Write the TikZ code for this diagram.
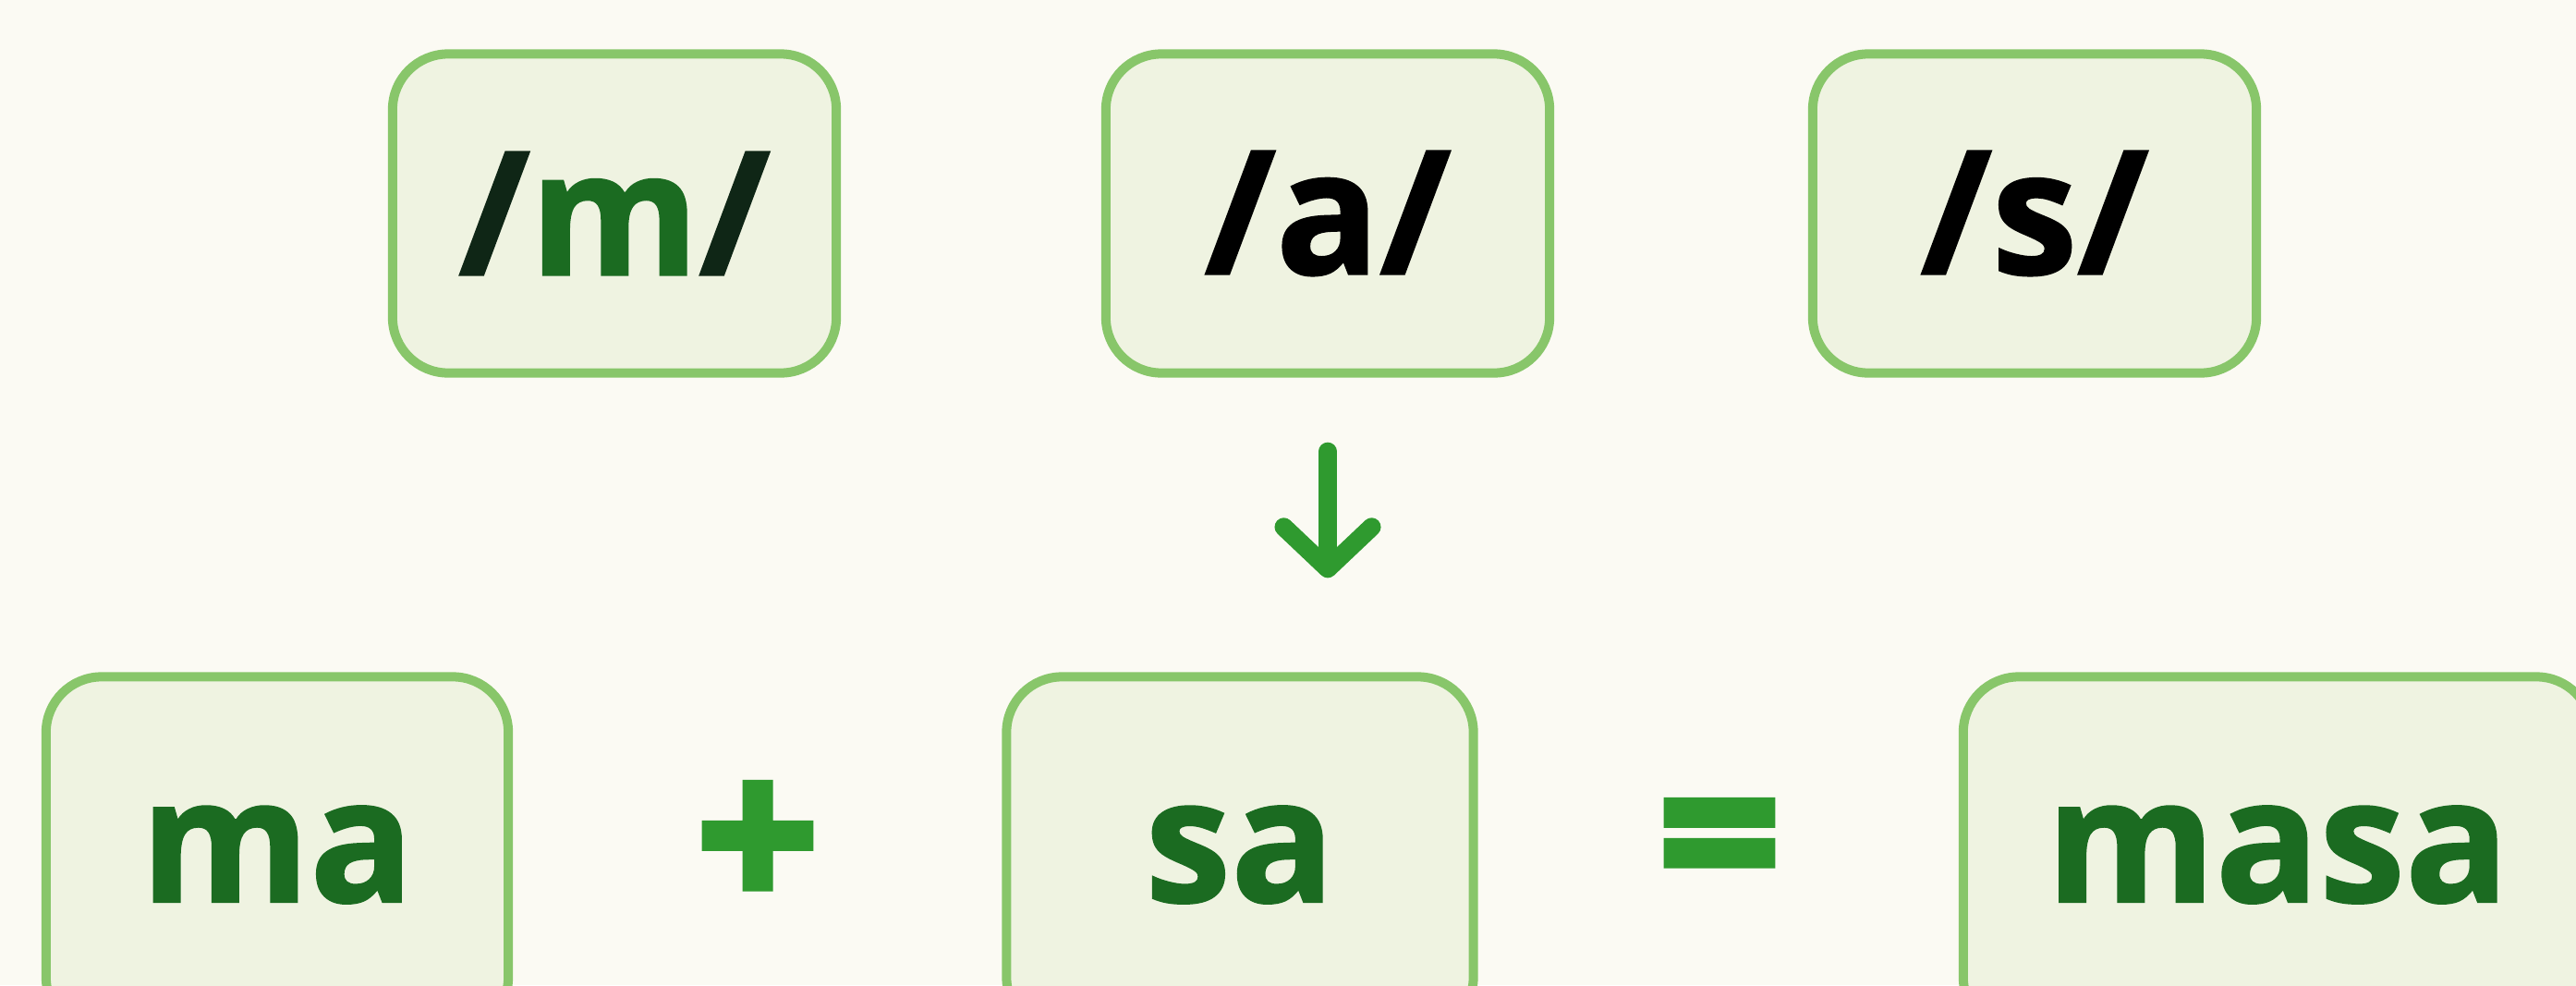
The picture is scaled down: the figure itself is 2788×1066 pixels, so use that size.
\documentclass[tikz,border=0pt]{standalone}
\usepackage{fontspec}
\setmainfont{Open Sans}[BoldFeatures={FakeBold=1.2}]
\newfontfamily\signfont{Open Sans}[BoldFeatures={FakeBold=3.5}]
\usetikzlibrary{arrows.meta, positioning}
\definecolor{paper}{HTML}{FBFAF3}
\definecolor{boxfill}{HTML}{EFF3E1}
\definecolor{boxline}{HTML}{88C66A}
\definecolor{leafgreen}{HTML}{1B6B21}
\definecolor{signgreen}{HTML}{2F9A2F}
\definecolor{inkdark}{HTML}{0F2616}
\tikzset{
  phoneme/.style={rectangle, rounded corners=0.6cm, draw=boxline, fill=boxfill, line width=0.1cm, text centered, inner sep=0, minimum width=4.8cm, minimum height=3.45cm, font=\fontsize{53}{60}\selectfont\bfseries},
  syllable/.style={phoneme, minimum height=3.85cm, text=leafgreen},
  sign/.style={text=signgreen, inner sep=0, font=\signfont\fontsize{66}{72}\selectfont\bfseries},
  flow/.style={draw=signgreen, line width=0.2cm, line cap=round, -{Straight Barb[length=0.45cm, width=0.95cm, round]}}
}

\begin{document}
\begin{tikzpicture}[x=0.01cm, y=-0.01cm]
      \fill[paper](0, 0) rectangle (2788, 1066);
      \useasboundingbox(0, 0) rectangle (2788, 1066);

      \node[phoneme](m) at (665, 231){\textcolor{inkdark}{/}\textcolor{leafgreen}{m}\textcolor{inkdark}{/}};
      \node[phoneme](a) at (1437, 231){/a/};
      \node[phoneme](s) at (2202, 231){/s/};

      \node[syllable, minimum width=5.0cm](ma) at (300, 925){ma};
      \node[sign](plus) at (820, 917){+};
      \node[syllable, minimum width=5.05cm](sa) at (1342, 925){sa};
      \node[sign](eq) at (1861, 925){=};
      \node[syllable, minimum width=6.8cm](masa) at (2465, 925){masa};

      \draw[flow, shorten <=0.8cm, shorten >=1.02cm](a.south) -- (a.south |- sa.north);
    \end{tikzpicture}
\end{document}
